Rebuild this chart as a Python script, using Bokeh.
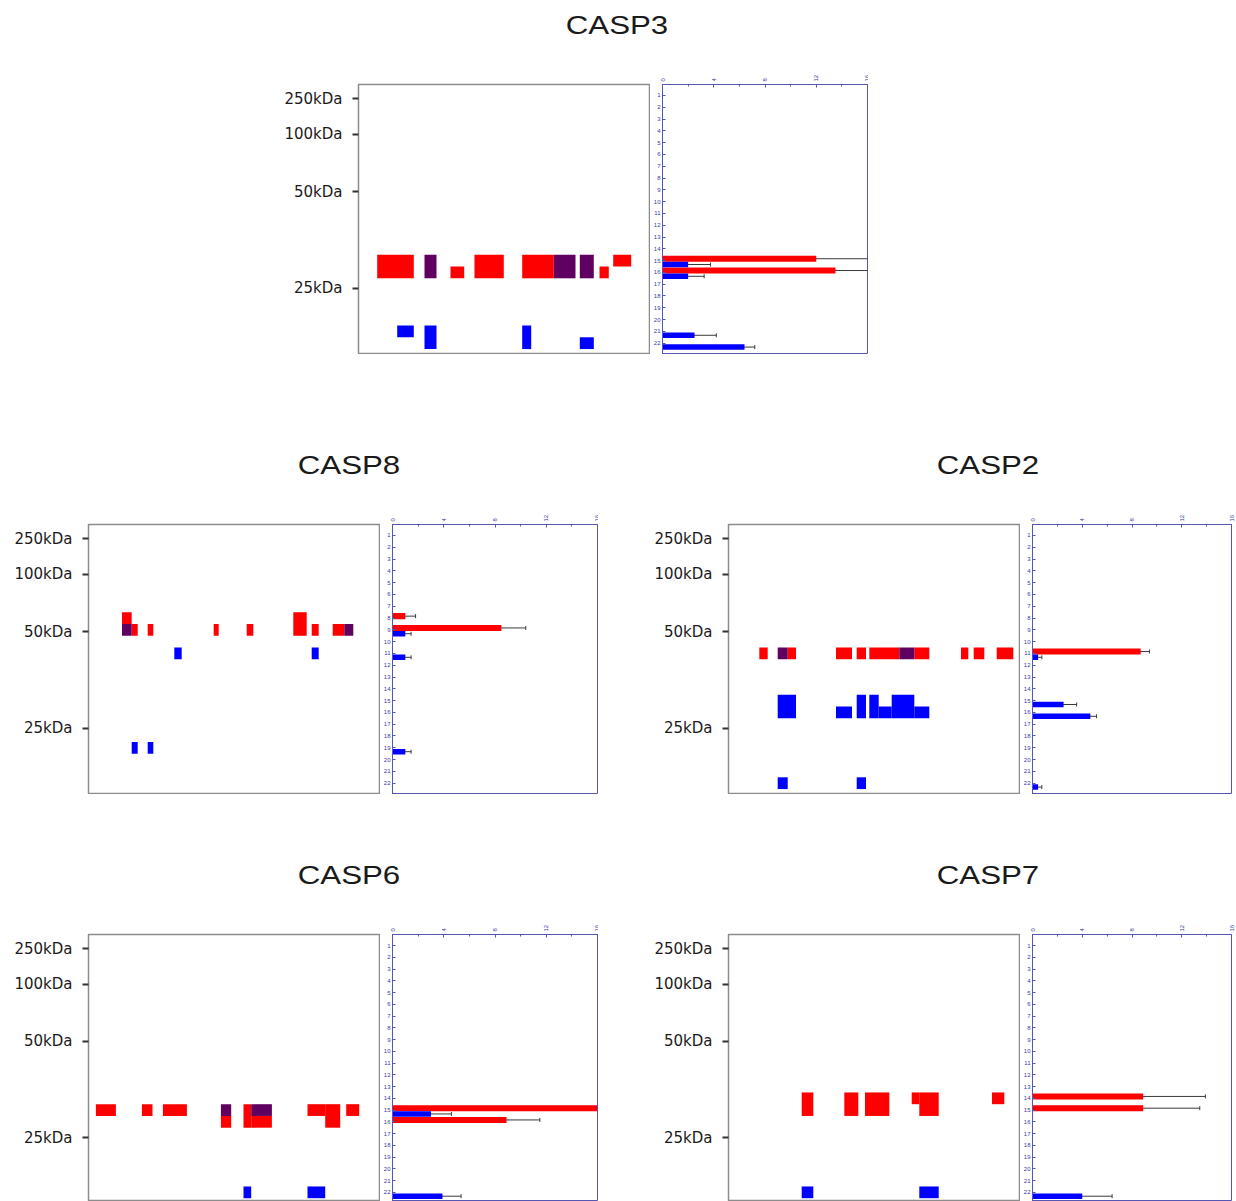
from bokeh.plotting import figure
from bokeh.models import Range1d, FixedTicker, Whisker, TeeHead, ColumnDataSource, Div, Spacer
from bokeh.layouts import column, row
from bokeh.embed import file_html
from bokeh.resources import INLINE

# ---------------- data ----------------
PANEL_NAMES = ["CASP3", "CASP8", "CASP2", "CASP6", "CASP7"]

# molecular-weight markers, placed at gel-band (row) positions
KDA_TICKS = [1.28, 4.3, 9.15, 17.35]
KDA_LABELS = ["250kDa", "100kDa", "50kDa", "25kDa"]

BAND_ROWS = list(range(1, 23))          # gel bands 1..22
COUNT_TICKS = [0, 4, 8, 12, 16]         # spectral count axis
COUNT_MINOR = [2, 6, 10, 14]

# peptide blocks: (sequence start, sequence end, first band, last band)
CASP3_RED = [(18.7, 55.3, 15, 16), (92, 105.7, 16, 16), (116, 145.3, 15, 16),
             (163.7, 195.3, 15, 16), (241, 250.3, 16, 16), (254.7, 272.7, 15, 15)]
CASP3_BOTH = [(66, 78, 15, 16), (195.3, 217, 15, 16), (221.3, 235.3, 15, 16)]
CASP3_BLUE = [(38.7, 55.3, 21, 21), (66, 78, 21, 22), (163.7, 172.7, 21, 22), (221.3, 235.3, 22, 22)]

CASP8_RED = [(33.5, 43.2, 8, 8), (43.2, 49.2, 9, 9), (59.2, 64.8, 9, 9), (125.2, 130.2, 9, 9),
             (158.2, 164.8, 9, 9), (204.8, 218.2, 8, 9), (223.2, 230.2, 9, 9), (244.2, 255.8, 9, 9)]
CASP8_BOTH = [(33.5, 43.2, 9, 9), (255.8, 264.8, 9, 9)]
CASP8_BLUE = [(85.8, 93.2, 11, 11), (223.2, 230.2, 11, 11), (43.2, 49.2, 19, 19), (59.2, 64.8, 19, 19)]

CASP2_RED = [(30.8, 39.2, 11, 11), (59.2, 67.5, 11, 11), (107.5, 123.5, 11, 11), (128.2, 137.5, 11, 11),
             (140.8, 170.8, 11, 11), (185.8, 200.8, 11, 11), (232.5, 239.8, 11, 11),
             (245.2, 255.8, 11, 11), (268.2, 284.8, 11, 11)]
CASP2_BOTH = [(49.2, 59.2, 11, 11), (170.8, 185.8, 11, 11)]
CASP2_BLUE = [(49.2, 67.5, 15, 16), (107.5, 123.5, 16, 16), (128.2, 137.5, 15, 16), (140.8, 150.2, 15, 16),
              (150.2, 163.2, 16, 16), (163.2, 185.8, 15, 16), (185.8, 200.8, 16, 16),
              (49.2, 59.2, 22, 22), (128.2, 137.5, 22, 22)]

CASP6_RED = [(7.4, 27.4, 15, 15), (53.4, 64, 15, 15), (74.4, 98.4, 15, 15), (132.4, 142.7, 16, 16),
             (155, 162.7, 15, 16), (162.7, 183.4, 16, 16), (219, 236.7, 15, 15),
             (236.7, 251.7, 15, 16), (257.7, 270.7, 15, 15)]
CASP6_BOTH = [(132.4, 142.7, 15, 15), (162.7, 183.4, 15, 15)]
CASP6_BLUE = [(155, 162.7, 22, 22), (219, 236.7, 22, 22)]

CASP7_RED = [(73.2, 84.8, 14, 15), (115.8, 129.8, 14, 15), (136.5, 160.8, 14, 15),
             (183.2, 190.8, 14, 14), (190.8, 210.2, 14, 15), (263.5, 275.8, 14, 14)]
CASP7_BOTH = []
CASP7_BLUE = [(73.2, 84.8, 22, 22), (190.8, 210.2, 22, 22)]

# spectral counts per band (mean, error)
CASP3_RED_ROWS, CASP3_RED_MEAN, CASP3_RED_ERR = [15, 16], [12.0, 13.5], [6.4, 3.9]
CASP3_BLUE_ROWS, CASP3_BLUE_MEAN, CASP3_BLUE_ERR = [15, 16, 21, 22], [2.0, 2.0, 2.5, 6.4], [1.75, 1.25, 1.7, 0.8]

CASP8_RED_ROWS, CASP8_RED_MEAN, CASP8_RED_ERR = [8, 9], [1.0, 8.5], [0.8, 1.9]
CASP8_BLUE_ROWS, CASP8_BLUE_MEAN, CASP8_BLUE_ERR = [9, 11, 19], [1.0, 1.0, 1.0], [0.45, 0.45, 0.45]

CASP2_RED_ROWS, CASP2_RED_MEAN, CASP2_RED_ERR = [11], [8.7], [0.7]
CASP2_BLUE_ROWS, CASP2_BLUE_MEAN, CASP2_BLUE_ERR = [11, 15, 16, 22], [0.45, 2.5, 4.65, 0.45], [0.3, 1.05, 0.5, 0.3]

CASP6_RED_ROWS, CASP6_RED_MEAN, CASP6_RED_ERR = [15, 16], [16.0, 8.9], [5.1, 2.6]
CASP6_BLUE_ROWS, CASP6_BLUE_MEAN, CASP6_BLUE_ERR = [15, 22], [3.0, 3.9], [1.6, 1.45]

CASP7_RED_ROWS, CASP7_RED_MEAN, CASP7_RED_ERR = [14, 15], [8.9, 8.9], [5.0, 4.55]
CASP7_BLUE_ROWS, CASP7_BLUE_MEAN, CASP7_BLUE_ERR = [22], [4.0], [2.4]

# ---------------- style ----------------
RED = "#ff0000"
BLUE = "#0000ff"
PURPLE = "#600060"
GEL_FRAME = "#8c8c8c"
BAR_FRAME = "#5656b4"
BAR_TEXT = "#3a3aa0"
ERR_COLOR = "#3a3a3a"
TXT = "#1a1a1a"


def gel_plot(red, blue, both, y_range, frame_h, left_border):
    p = figure(frame_width=292, frame_height=frame_h, x_range=Range1d(0, 292), y_range=y_range,
               output_backend="svg", toolbar_location=None, x_axis_location=None,
               min_border_left=left_border, min_border_right=0, min_border_top=20, min_border_bottom=0,
               background_fill_color="white", border_fill_color="white")
    for blocks, color in ((red, RED), (blue, BLUE), (both, PURPLE)):
        if blocks:
            p.quad(left=[b[0] for b in blocks], right=[b[1] for b in blocks],
                   top=[b[2] - 0.5 for b in blocks], bottom=[b[3] + 0.5 for b in blocks],
                   fill_color=color, line_color=None)
    p.grid.visible = False
    p.outline_line_color = GEL_FRAME
    p.outline_line_width = 1.5
    ya = p.yaxis[0]
    ya.ticker = FixedTicker(ticks=KDA_TICKS, minor_ticks=[])
    ya.major_label_overrides = {t: l for t, l in zip(KDA_TICKS, KDA_LABELS)}
    ya.axis_line_color = None
    ya.major_tick_out = 6
    ya.major_tick_in = 0
    ya.major_tick_line_width = 2
    ya.major_tick_line_color = "#333333"
    ya.minor_tick_line_color = None
    ya.major_label_standoff = 10
    ya.major_label_text_font = "DejaVu Sans"
    ya.major_label_text_font_size = "15px"
    ya.major_label_text_color = TXT
    return p


def whisker(rows, means, errs, offset):
    src = ColumnDataSource(dict(base=[r + offset for r in rows],
                                lower=[max(0.0, m - e) for m, e in zip(means, errs)],
                                upper=[m + e for m, e in zip(means, errs)]))
    return Whisker(source=src, base="base", lower="lower", upper="upper", dimension="width",
                   line_color=ERR_COLOR, line_width=1,
                   upper_head=TeeHead(size=4, line_color=ERR_COLOR, line_width=1),
                   lower_head=TeeHead(size=4, line_color=ERR_COLOR, line_width=1))


def bar_plot(red_rows, red_mean, red_err, blue_rows, blue_mean, blue_err,
             y_range, frame_h, frame_w, left_border, right_border):
    p = figure(frame_width=frame_w, frame_height=frame_h, x_range=Range1d(0, 16), y_range=y_range,
               output_backend="svg", toolbar_location=None, x_axis_location="above",
               min_border_left=left_border, min_border_right=right_border, min_border_top=20,
               min_border_bottom=0, background_fill_color="white", border_fill_color="white")
    p.hbar(y=[r - 0.16 for r in red_rows], left=0, right=red_mean, height=0.52,
           fill_color=RED, line_color=None)
    p.hbar(y=[r + 0.33 for r in blue_rows], left=0, right=blue_mean, height=0.46,
           fill_color=BLUE, line_color=None)
    p.add_layout(whisker(red_rows, red_mean, red_err, -0.16))
    p.add_layout(whisker(blue_rows, blue_mean, blue_err, 0.33))
    p.grid.visible = False
    p.outline_line_color = BAR_FRAME
    p.outline_line_width = 1
    xa = p.xaxis[0]
    xa.ticker = FixedTicker(ticks=COUNT_TICKS, minor_ticks=COUNT_MINOR)
    xa.major_label_orientation = "vertical"
    xa.major_label_text_font_size = "6px"
    xa.major_label_text_color = BAR_TEXT
    xa.major_label_standoff = 3
    xa.axis_line_color = BAR_FRAME
    xa.major_tick_line_color = BAR_FRAME
    xa.minor_tick_line_color = BAR_FRAME
    xa.major_tick_in = 3
    xa.major_tick_out = 0
    xa.minor_tick_in = 2
    xa.minor_tick_out = 0
    ya = p.yaxis[0]
    ya.ticker = FixedTicker(ticks=BAND_ROWS, minor_ticks=[])
    ya.major_label_text_font_size = "6px"
    ya.major_label_text_color = BAR_TEXT
    ya.major_label_standoff = 2
    ya.axis_line_color = BAR_FRAME
    ya.major_tick_line_color = BAR_FRAME
    ya.major_tick_in = 3
    ya.major_tick_out = 0
    ya.minor_tick_line_color = None
    return p


def title_div(items, height, top):
    parts = []
    for name, center in items:
        parts.append(
            f'<div style="position:absolute;left:{center - 150}px;top:{top}px;width:300px;'
            f'text-align:center;font-family:\'Liberation Sans\',Arial,sans-serif;font-size:25px;'
            f'line-height:35px;color:#1a1a1a;">'
            f'<span style="display:inline-block;transform:scaleX(1.25);">{name}</span></div>')
    html = f'<div style="position:relative;width:1236px;height:{height}px;">' + "".join(parts) + "</div>"
    return Div(text=html, width=1236, height=height, margin=0)


# shared band ranges (reversed: band 1 at top)
r3 = Range1d(start=22.96, end=0.07)
r8 = Range1d(start=22.96, end=0.07)
r2 = Range1d(start=22.96, end=0.07)
r6 = Range1d(start=22.78, end=0.06)
r7 = Range1d(start=22.78, end=0.06)

g3 = gel_plot(CASP3_RED, CASP3_BLUE, CASP3_BOTH, r3, 270, 80)
b3 = bar_plot(CASP3_RED_ROWS, CASP3_RED_MEAN, CASP3_RED_ERR, CASP3_BLUE_ROWS, CASP3_BLUE_MEAN,
              CASP3_BLUE_ERR, r3, 270, 205, 12, 1)

g8 = gel_plot(CASP8_RED, CASP8_BLUE, CASP8_BOTH, r8, 270, 88)
b8 = bar_plot(CASP8_RED_ROWS, CASP8_RED_MEAN, CASP8_RED_ERR, CASP8_BLUE_ROWS, CASP8_BLUE_MEAN,
              CASP8_BLUE_ERR, r8, 270, 205, 11, 1)
g2 = gel_plot(CASP2_RED, CASP2_BLUE, CASP2_BOTH, r2, 270, 130)
b2 = bar_plot(CASP2_RED_ROWS, CASP2_RED_MEAN, CASP2_RED_ERR, CASP2_BLUE_ROWS, CASP2_BLUE_MEAN,
              CASP2_BLUE_ERR, r2, 270, 199, 12, 6)

g6 = gel_plot(CASP6_RED, CASP6_BLUE, CASP6_BOTH, r6, 267, 88)
b6 = bar_plot(CASP6_RED_ROWS, CASP6_RED_MEAN, CASP6_RED_ERR, CASP6_BLUE_ROWS, CASP6_BLUE_MEAN,
              CASP6_BLUE_ERR, r6, 267, 205, 11, 1)
g7 = gel_plot(CASP7_RED, CASP7_BLUE, CASP7_BOTH, r7, 267, 130)
b7 = bar_plot(CASP7_RED_ROWS, CASP7_RED_MEAN, CASP7_RED_ERR, CASP7_BLUE_ROWS, CASP7_BLUE_MEAN,
              CASP7_BLUE_ERR, r7, 267, 199, 12, 6)

layout = column(
    title_div([(PANEL_NAMES[0], 617)], 64, 8),
    row(Spacer(width=278, height=290, margin=0), g3, b3, spacing=0),
    Spacer(width=10, height=94, margin=0),
    title_div([(PANEL_NAMES[1], 349), (PANEL_NAMES[2], 988)], 56, 0),
    row(g8, b8, g2, b2, spacing=0),
    Spacer(width=10, height=64, margin=0),
    title_div([(PANEL_NAMES[3], 349), (PANEL_NAMES[4], 988)], 56, 0),
    row(g6, b6, g7, b7, spacing=0),
    spacing=0,
)

open("out.html", "w").write(file_html(layout, INLINE))
